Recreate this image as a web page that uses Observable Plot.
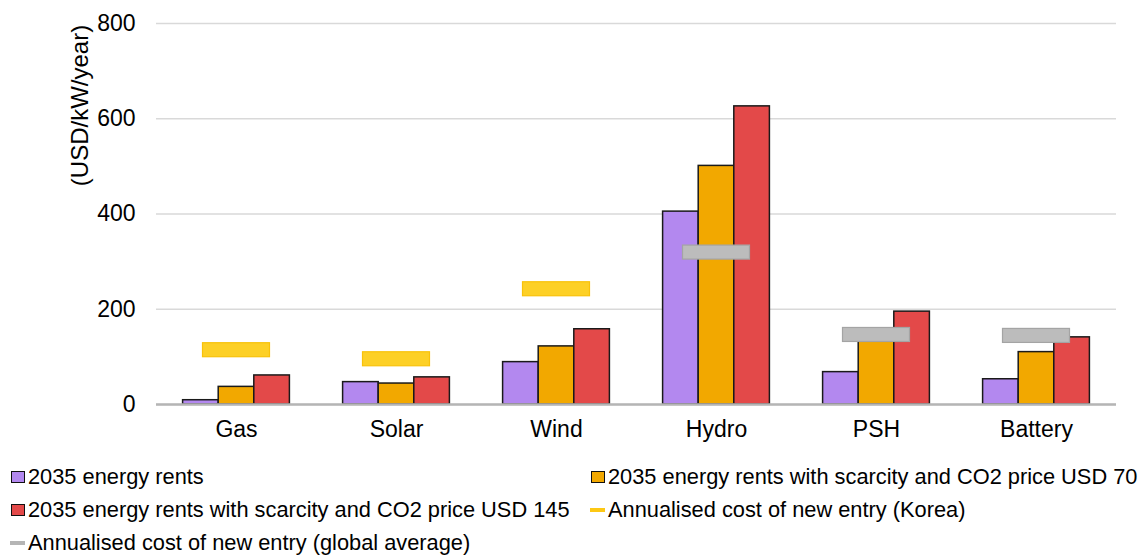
<!DOCTYPE html>
<html>
<head>
<meta charset="utf-8">
<script src="https://cdn.jsdelivr.net/npm/d3@7"></script>
<script src="https://cdn.jsdelivr.net/npm/@observablehq/plot@0.6"></script>
<style>
  html, body { margin: 0; padding: 0; background: #fff; }
  body { width: 1142px; height: 557px; overflow: hidden; font-family: "Liberation Sans", Arial, sans-serif; }
  #legend { position: relative; margin-top: 5px; padding-left: 10px; display: grid; grid-template-columns: 580px auto; grid-auto-rows: 33px; font-size: 21.8px; color: #000; }
  .item { display: flex; align-items: center; white-space: nowrap; }
  .sw { box-sizing: border-box; width: 14px; height: 12px; border: 1.5px solid #111; margin-left: 1px; margin-right: 3px; }
  .ln { width: 15px; height: 4px; margin-right: 3px; }
</style>
</head>
<body>
<div id="chart"></div>
<div id="legend"></div>
<script>
const categories = ["Gas", "Solar", "Wind", "Hydro", "PSH", "Battery"];
const seriesNames = [
  "2035 energy rents",
  "2035 energy rents with scarcity and CO2 price USD 70",
  "2035 energy rents with scarcity and CO2 price USD 145"
];
const rents = [9, 47, 89, 405, 68, 53];
const rentsCO2_70 = [37, 44, 122, 501, 140, 110];
const rentsCO2_145 = [61, 57, 158, 626, 195, 141];
const costKorea = [114, 95, 242, null, null, null];
const costGlobal = [null, null, null, 319, 146, 144];
const markerNames = ["Annualised cost of new entry (Korea)", "Annualised cost of new entry (global average)"];
const yTicks = [0, 200, 400, 600, 800];
const yLabel = "(USD/kW/year)";

const barColors = ["#b388ef", "#f2a800", "#e34949"];
const seriesValues = [rents, rentsCO2_70, rentsCO2_145];
const font = "'Liberation Sans', Arial, sans-serif";

const bw = 35.6;
const bandW = 160;
const barMarks = seriesValues.map((vals, i) =>
  Plot.barY(categories.map((c, j) => ({category: c, value: vals[j]})), {
    x: "category", y: "value",
    fill: barColors[i], stroke: "#1a1a1a", strokeWidth: 1.5,
    insetLeft: (bandW - bw) / 2, insetRight: (bandW - bw) / 2,
    dx: (i - 1) * bw
  })
);
const korea = categories.map((c, j) => ({category: c, value: costKorea[j]})).filter(d => d.value != null);
const global = categories.map((c, j) => ({category: c, value: costGlobal[j]})).filter(d => d.value != null);
const mInset = (bandW - 67) / 2;

const chart = Plot.plot({
  width: 1142,
  height: 455,
  marginTop: 23,
  marginBottom: 51,
  marginLeft: 156,
  marginRight: 26,
  style: {fontFamily: font, fontSize: "23px", color: "#000", background: "#fff"},
  x: {domain: categories, padding: 0, label: null},
  y: {domain: [0, 800], label: null},
  marks: [
    Plot.gridY(yTicks, {stroke: "#d9d9d9", strokeOpacity: 1, strokeWidth: 1.5}),
    ...barMarks,
    Plot.ruleY([0], {stroke: "#b5b5b5", strokeWidth: 2.5}),
    Plot.barY(korea, {x: "category", y1: "value", y2: "value", insetTop: -7, insetBottom: -7, insetLeft: mInset, insetRight: mInset, fill: "#fdd026", stroke: "#f8c20a", strokeWidth: 1.2}),
    Plot.barY(global, {x: "category", y1: "value", y2: "value", insetTop: -7, insetBottom: -7, insetLeft: mInset, insetRight: mInset, fill: "#bcbcbc", stroke: "#a4a4a4", strokeWidth: 1.2}),
    Plot.axisY({ticks: yTicks, tickSize: 0, tickPadding: 21, fontSize: 23, fill: "#000", label: null}),
    Plot.axisX({tickSize: 0, tickPadding: 16, fontSize: 23, fill: "#000", label: null}),
    Plot.text([yLabel], {frameAnchor: "top-left", dx: -86, dy: 82, rotate: -90, textAnchor: "middle", fontSize: 24, fill: "#000"})
  ]
});
document.getElementById("chart").appendChild(chart);

const legend = document.getElementById("legend");
const items = [
  {type: "sw", color: barColors[0], label: seriesNames[0]},
  {type: "sw", color: barColors[1], label: seriesNames[1]},
  {type: "sw", color: barColors[2], label: seriesNames[2]},
  {type: "ln", color: "#fdc814", label: markerNames[0]},
  {type: "ln", color: "#b5b5b5", label: markerNames[1]}
];
items.forEach(it => {
  const d = document.createElement("div");
  d.className = "item";
  const s = document.createElement("span");
  s.className = it.type;
  s.style.background = it.color;
  d.appendChild(s);
  const t = document.createElement("span");
  t.textContent = it.label;
  d.appendChild(t);
  legend.appendChild(d);
});
</script>
</body>
</html>
